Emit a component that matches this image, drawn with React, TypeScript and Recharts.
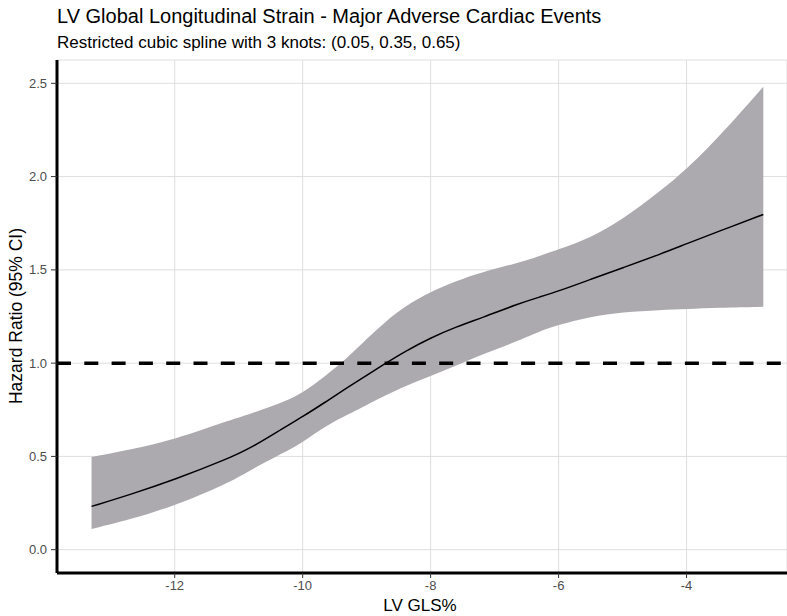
import React from "react";
import {
  ComposedChart,
  XAxis,
  YAxis,
  CartesianGrid,
  Area,
  Line,
  ReferenceLine,
} from "recharts";

const glsValues = [
  -13.3, -12.7, -12.0, -11.2, -10.8, -10.3, -10.0, -9.65, -9.3, -9.0, -8.7, -8.4,
  -8.0, -7.6, -7.2, -6.6, -6.3, -6.0, -5.5, -5.0, -4.4, -4.0, -3.5, -2.8,
];
const hazardRatio = [
  0.232, 0.295, 0.376, 0.483, 0.547, 0.653, 0.713, 0.79, 0.869, 0.935, 1.0, 1.063,
  1.136, 1.195, 1.243, 1.322, 1.354, 1.386, 1.449, 1.511, 1.585, 1.64, 1.706, 1.797,
];
const lowerCI = [
  0.111, 0.161, 0.236, 0.35, 0.43, 0.52, 0.575, 0.662, 0.724, 0.776, 0.828, 0.876,
  0.93, 0.987, 1.046, 1.123, 1.17, 1.205, 1.25, 1.273, 1.285, 1.29, 1.297, 1.302,
];
const upperCI = [
  0.497, 0.536, 0.59, 0.688, 0.73, 0.79, 0.84, 0.93, 1.028, 1.13, 1.225, 1.305,
  1.383, 1.44, 1.488, 1.54, 1.574, 1.61, 1.672, 1.77, 1.925, 2.04, 2.21, 2.482,
];
const xTicks = [-12, -10, -8, -6, -4];
const yTicks = [0, 0.5, 1.0, 1.5, 2.0, 2.5];

const titleText = "LV Global Longitudinal Strain - Major Adverse Cardiac Events";
const subtitleText = "Restricted cubic spline with 3 knots: (0.05, 0.35, 0.65)";
const xTitle = "LV GLS%";
const yTitle = "Hazard Ratio (95% CI)";

const data = glsValues.map((x, i) => ({
  x,
  est: hazardRatio[i],
  band: [lowerCI[i], upperCI[i]],
}));

const FONT = "'Liberation Sans', Arial, Helvetica, sans-serif";

export default function App() {
  return (
    <div style={{ position: "absolute", left: 0, top: 0, width: 787, height: 616, background: "#fff", overflow: "hidden" }}>
      <ComposedChart
        width={787}
        height={616}
        data={data}
        margin={{ top: 60, right: 0, bottom: 0, left: 0 }}
        style={{ fontFamily: FONT }}
      >
        <CartesianGrid stroke="#dedede" strokeWidth={1} />
        <XAxis
          type="number"
          dataKey="x"
          domain={[-13.84, -2.43]}
          allowDataOverflow
          ticks={xTicks}
          height={43}
          axisLine={{ stroke: "#000", strokeWidth: 3 }}
          tickLine={{ stroke: "#333", strokeWidth: 1 }}
          tickSize={5}
          tickMargin={3}
          tick={{ fill: "#4d4d4d", fontSize: 13, fontFamily: FONT }}
        />
        <YAxis
          type="number"
          domain={[-0.125, 2.625]}
          allowDataOverflow
          ticks={yTicks}
          width={57}
          axisLine={{ stroke: "#000", strokeWidth: 3 }}
          tickLine={{ stroke: "#333", strokeWidth: 1 }}
          tickSize={6}
          tickMargin={4}
          tickFormatter={(v: number) => v.toFixed(1)}
          tick={{ fill: "#4d4d4d", fontSize: 13, fontFamily: FONT }}
        />
        <Area
          dataKey="band"
          type="basis"
          fill="#acaaaf"
          fillOpacity={1}
          stroke="none"
          isAnimationActive={false}
          activeDot={false}
        />
        <ReferenceLine
          y={1}
          stroke="#000"
          strokeWidth={3.5}
          strokeDasharray="14 13.3"
        />
        <Line
          dataKey="est"
          type="basis"
          stroke="#000"
          strokeWidth={1.5}
          dot={false}
          activeDot={false}
          isAnimationActive={false}
        />
      </ComposedChart>
      <svg
        width={787}
        height={616}
        style={{ position: "absolute", left: 0, top: 0, pointerEvents: "none" }}
      >
        <text x={57} y={23} fontFamily={FONT} fontSize={20} fill="#000">
          {titleText}
        </text>
        <text x={57} y={48} fontFamily={FONT} fontSize={17} fill="#000">
          {subtitleText}
        </text>
        <text x={420} y={611} fontFamily={FONT} fontSize={17} fill="#000" textAnchor="middle">
          {xTitle}
        </text>
        <text
          x={0}
          y={0}
          fontFamily={FONT}
          fontSize={17.5}
          fill="#000"
          textAnchor="middle"
          transform="translate(22,316) rotate(-90)"
        >
          {yTitle}
        </text>
      </svg>
    </div>
  );
}
